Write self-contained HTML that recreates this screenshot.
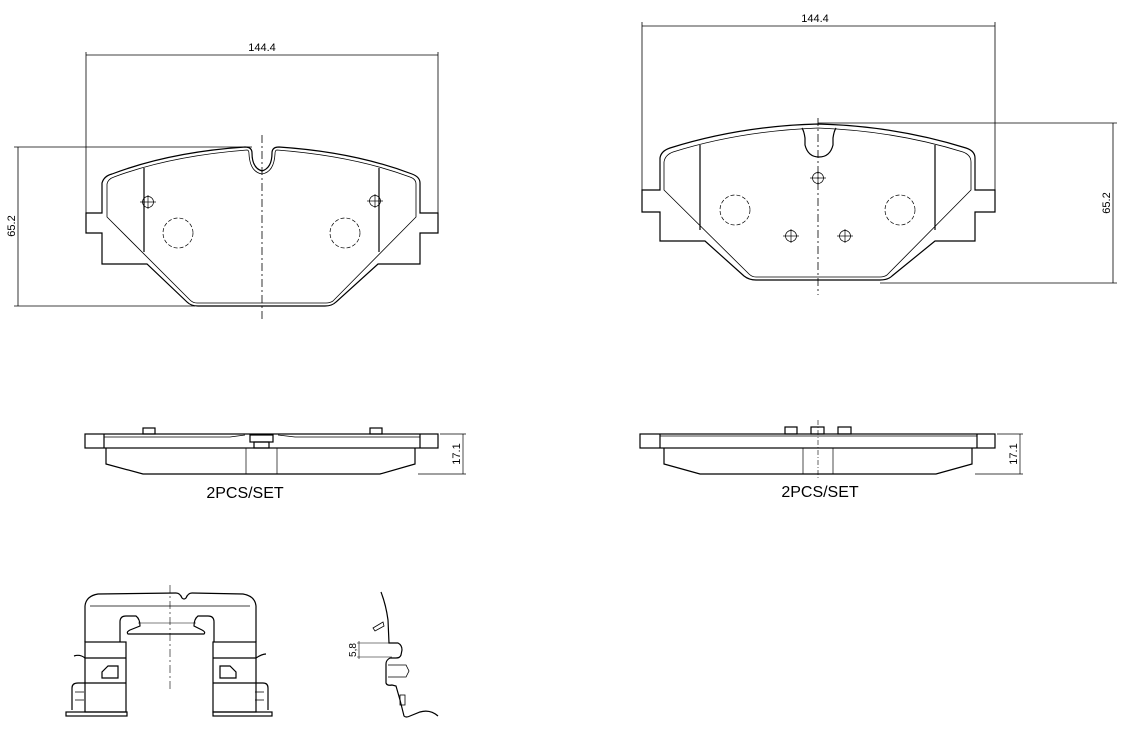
<!DOCTYPE html>
<html><head><meta charset="utf-8"><style>
html,body{margin:0;padding:0;background:#fff;}
svg{display:block;}
text{font-family:"Liberation Sans",sans-serif;fill:#000;}
</style></head><body>
<svg width="1121" height="738" viewBox="0 0 1121 738" xmlns="http://www.w3.org/2000/svg">
<g fill="none" stroke="#000" stroke-width="1.2">
<!-- LEFT PAD -->
<g stroke-width="0.8">
<line x1="86" y1="55" x2="438" y2="55"/>
<line x1="86" y1="52" x2="86" y2="213"/>
<line x1="438" y1="52" x2="438" y2="213"/>
<line x1="18" y1="147" x2="18" y2="306"/>
<line x1="14" y1="147" x2="252" y2="147"/>
<line x1="14" y1="306" x2="195" y2="306"/>
<line x1="262" y1="135" x2="262" y2="320" stroke-dasharray="8,3,2,3"/>
</g>
<path d="M102,213 L102,183 Q104,176 112,174 Q170,152 245,147 Q252,147 252,153 Q252,168 262,171 Q272,168 272,153 Q272,147 279,147 Q354,152 412,174 Q420,177 420,183 L420,213 L438,213 L438,233 L420,233 L420,264 L378,264 L336,302 Q332,306 325,306 L198,306 Q191,306 187,302 L147,264 L102,264 L102,233 L86,233 L86,213 Z"/>
<path d="M107,217 L107,184 Q108,179 114,177 Q170,156 247,150 Q249,150 249,154 Q250,172 262,174 Q274,172 275,154 Q275,150 277,150 Q354,156 410,177 Q416,179 416,184 L416,217 L333,301 Q330,303 326,303 L197,303 Q193,303 190,300 Z" stroke-width="0.8"/>
<line x1="144" y1="168" x2="144" y2="252"/>
<line x1="379" y1="168" x2="379" y2="252"/>
<g stroke-width="0.7">
<circle cx="148" cy="202" r="5.5"/><line x1="140" y1="202" x2="156" y2="202"/><line x1="148" y1="195" x2="148" y2="209"/>
<circle cx="375" cy="201" r="5.5"/><line x1="367" y1="201" x2="383" y2="201"/><line x1="375" y1="194" x2="375" y2="208"/>
<circle cx="178" cy="233" r="15" stroke-dasharray="4,2"/>
<circle cx="345" cy="233" r="15" stroke-dasharray="4,2"/>
</g>

<!-- RIGHT PAD -->
<g stroke-width="0.8">
<line x1="642" y1="26" x2="995" y2="26"/>
<line x1="642" y1="22" x2="642" y2="192"/>
<line x1="995" y1="22" x2="995" y2="192"/>
<line x1="1113" y1="123" x2="1113" y2="283"/>
<line x1="818" y1="123" x2="1117" y2="123"/>
<line x1="880" y1="283" x2="1117" y2="283"/>
<line x1="818" y1="118" x2="818" y2="295" stroke-dasharray="8,3,2,3"/>
</g>
<path d="M660,190 L660,158 Q661,151 670,148 Q740,126 818,124 Q896,126 966,148 Q975,151 975,158 L975,190 L995,190 L995,212 L975,212 L975,241 L935,241 L892,276 Q888,280 880,280 L756,280 Q749,280 744,276 L705,241 L660,241 L660,212 L642,212 L642,190 Z"/>
<path d="M664,190 L664,162 Q665,155 673,152 Q740,131 818,128 Q896,131 963,152 Q971,155 971,162 L971,190 L887,275 Q884,277 880,277 L756,277 Q752,277 749,274 Z" stroke-width="0.8"/>
<path d="M802,128 Q804,131 805,138 L805,145 Q808,157 819,157 Q830,157 833,145 L833,138 Q834,131 836,128"/>
<line x1="700" y1="145" x2="700" y2="230"/>
<line x1="935" y1="145" x2="935" y2="230"/>
<g stroke-width="0.7">
<circle cx="818" cy="178" r="5.5"/><line x1="810" y1="178" x2="826" y2="178"/><line x1="818" y1="171" x2="818" y2="185"/>
<circle cx="791" cy="236" r="5.5"/><line x1="783" y1="236" x2="799" y2="236"/><line x1="791" y1="229" x2="791" y2="243"/>
<circle cx="845" cy="236" r="5.5"/><line x1="837" y1="236" x2="853" y2="236"/><line x1="845" y1="229" x2="845" y2="243"/>
<circle cx="735" cy="210" r="15" stroke-dasharray="4,2"/>
<circle cx="900" cy="210" r="15" stroke-dasharray="4,2"/>
</g>

<!-- LEFT SIDE VIEW -->
<rect x="85" y="434" width="353" height="14"/>
<line x1="104" y1="434" x2="104" y2="448"/>
<line x1="420" y1="434" x2="420" y2="448"/>
<path d="M104,437 L230,437 L245,435 M278,435 L295,437 L420,437" stroke-width="0.8"/>
<path d="M106,448 L106,464 L143,474 L380,474 L415,464 L415,448"/>
<rect x="143" y="428" width="12" height="6"/>
<rect x="370" y="428" width="12" height="6"/>
<rect x="250" y="435" width="23" height="7"/>
<rect x="254" y="442" width="15" height="6"/>
<line x1="246" y1="448" x2="246" y2="474" stroke-width="0.7"/>
<line x1="277" y1="448" x2="277" y2="474" stroke-width="0.7"/>
<g stroke-width="0.7"><line x1="463" y1="434" x2="463" y2="474"/><line x1="440" y1="434" x2="466" y2="434"/><line x1="418" y1="474" x2="466" y2="474"/></g>

<!-- RIGHT SIDE VIEW -->
<rect x="640" y="434" width="355" height="14"/>
<line x1="660" y1="434" x2="660" y2="448"/>
<line x1="977" y1="434" x2="977" y2="448"/>
<line x1="660" y1="436" x2="977" y2="436" stroke-width="0.8"/>
<path d="M664,448 L664,464 L700,474 L936,474 L972,464 L972,448"/>
<rect x="785" y="427" width="12" height="7"/>
<rect x="811" y="427" width="13" height="7"/>
<rect x="838" y="427" width="13" height="7"/>
<line x1="803" y1="448" x2="803" y2="474" stroke-width="0.7"/>
<line x1="833" y1="448" x2="833" y2="474" stroke-width="0.7"/>
<line x1="818" y1="420" x2="818" y2="480" stroke-width="0.6" stroke-dasharray="5,2,1,2"/>
<g stroke-width="0.7"><line x1="1020" y1="434" x2="1020" y2="474"/><line x1="997" y1="434" x2="1023" y2="434"/><line x1="975" y1="474" x2="1023" y2="474"/></g>

<!-- BOTTOM LEFT CLIP -->
<path d="M85,642 L85,606 Q86,596 98,594 L176,593 Q180,593 182,598 Q184,600 186,598 Q188,593 192,593 L243,594 Q255,596 256,606 L256,642"/>
<line x1="90" y1="606" x2="250" y2="606" stroke-width="0.7"/>
<line x1="170" y1="585" x2="170" y2="690" stroke-width="0.6" stroke-dasharray="8,3,2,3"/>
<path d="M120,642 L120,622 Q120,616 126,616 L136,616 Q140,619 140,626 L130,630 Q126,632 128,634 L204,634 Q206,632 202,630 L194,626 Q194,619 198,616 L208,616 Q214,616 214,622 L214,642"/>
<line x1="138" y1="623" x2="196" y2="623" stroke-width="0.6"/>
<rect x="85" y="642" width="41" height="70"/>
<rect x="213" y="642" width="43" height="70"/>
<line x1="85" y1="658" x2="126" y2="658"/><line x1="213" y1="658" x2="256" y2="658"/>
<line x1="85" y1="683" x2="126" y2="683"/><line x1="213" y1="683" x2="256" y2="683"/>
<path d="M74,656 Q80,654 85,658 M256,658 Q262,654 266,654"/>
<path d="M102,678 L102,672 L108,666 L118,666 L118,678 Z"/>
<path d="M236,678 L236,672 L230,666 L220,666 L220,678 Z"/>
<path d="M72,710 L72,688 Q72,683 78,683 L85,683 M256,683 L263,683 Q268,683 268,688 L268,710"/>
<path d="M75,692 L84,692 M75,700 L84,700 M255,692 L264,692 M255,700 L264,700" stroke-width="0.8"/>
<rect x="66" y="712" width="61" height="4"/>
<rect x="213" y="712" width="59" height="4"/>

<!-- BOTTOM RIGHT CLIP -->
<path d="M381,592 Q386,605 388,620 L389,643 L398,643 Q402,645 402,650 L401,655 Q400,658 396,658 L390,658 Q386,660 386,664 L386,683 Q387,686 392,685 L396,686 L400,700 L404,716 Q406,718 410,716 L420,712 Q430,709 438,716"/>
<path d="M373,628 L383,622 L384,626 L375,631 Z" stroke-width="0.8"/>
<path d="M388,665 L406,665 L409,671 L406,677 L388,677" stroke-width="0.8"/>
<rect x="400" y="695" width="5" height="10" stroke-width="0.8"/>
<g stroke-width="0.6"><line x1="357" y1="643" x2="390" y2="643"/><line x1="357" y1="657" x2="392" y2="657"/><line x1="359" y1="641" x2="359" y2="659"/></g>
</g>
<g font-size="11">
<text x="262" y="51" text-anchor="middle">144.4</text>
<text x="815" y="22" text-anchor="middle">144.4</text>
<text transform="translate(15,226) rotate(-90)" text-anchor="middle">65.2</text>
<text transform="translate(1110,203) rotate(-90)" text-anchor="middle">65.2</text>
<text transform="translate(460,454) rotate(-90)" text-anchor="middle">17.1</text>
<text transform="translate(1017,454) rotate(-90)" text-anchor="middle">17.1</text>
<text transform="translate(356,650) rotate(-90)" text-anchor="middle" font-size="10">5,8</text>
</g>
<text x="245" y="498" text-anchor="middle" font-size="16">2PCS/SET</text>
<text x="820" y="497" text-anchor="middle" font-size="16">2PCS/SET</text>
</svg>
</body></html>
